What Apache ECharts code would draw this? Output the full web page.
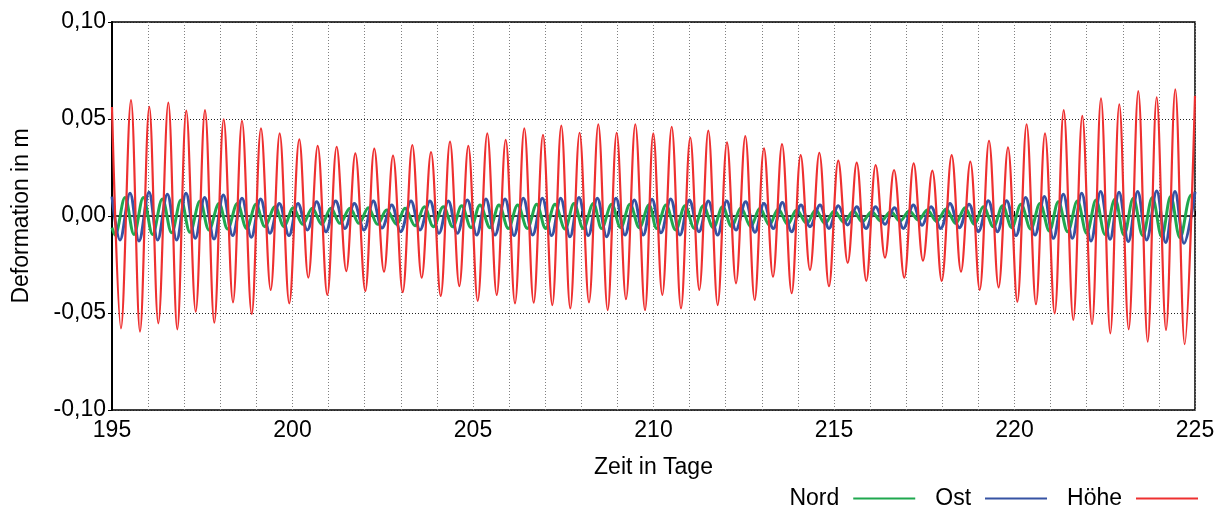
<!DOCTYPE html>
<html>
<head>
<meta charset="utf-8">
<script src="https://cdn.jsdelivr.net/npm/echarts@6/dist/echarts.min.js"></script>
<style>
html,body{margin:0;padding:0;background:#fff;}
#chart{width:1222px;height:509px;}
</style>
</head>
<body>
<div id="chart"></div>
<script>
// Tick labels / axis texts
const xTickMin = 195, xTickMax = 225;
const yTickMin = -0.10, yTickMax = 0.10;
const seriesNames = ['Nord', 'Ost', 'Höhe'];

// Höhe (vertical) — extremes (day, m)
const hoeheT = [195.000,195.249,195.526,195.776,196.033,196.283,196.560,196.809,197.058,197.319,197.576,197.834,198.094,198.352,198.601,198.870,199.127,199.396,199.645,199.911,200.188,200.438,200.698,200.964,201.224,201.490,201.740,202.017,202.266,202.535,202.784,203.053,203.319,203.579,203.837,204.105,204.363,204.621,204.870,205.130,205.396,205.657,205.906,206.163,206.421,206.681,206.939,207.197,207.446,207.695,207.953,208.213,208.471,208.731,208.980,209.238,209.496,209.765,209.994,210.244,210.504,210.762,211.019,211.269,211.518,211.778,212.036,212.285,212.543,212.803,213.061,213.310,213.560,213.828,214.077,214.335,214.593,214.861,215.119,215.380,215.629,215.895,216.155,216.413,216.662,216.947,217.207,217.465,217.723,217.983,218.260,218.518,218.776,219.036,219.294,219.560,219.820,220.078,220.335,220.595,220.845,221.113,221.363,221.629,221.878,222.147,222.396,222.654,222.903,223.163,223.429,223.690,223.939,224.197,224.454,224.715,225.000];
const hoeheV = [0.0562,-0.0579,0.0598,-0.0596,0.0563,-0.0553,0.0584,-0.0584,0.0543,-0.0493,0.0546,-0.0550,0.0498,-0.0445,0.0491,-0.0505,0.0452,-0.0381,0.0426,-0.0450,0.0395,-0.0318,0.0361,-0.0407,0.0357,-0.0284,0.0323,-0.0387,0.0347,-0.0287,0.0311,-0.0393,0.0366,-0.0318,0.0330,-0.0412,0.0383,-0.0361,0.0361,-0.0437,0.0426,-0.0407,0.0392,-0.0450,0.0452,-0.0447,0.0418,-0.0459,0.0466,-0.0476,0.0429,-0.0445,0.0473,-0.0485,0.0429,-0.0429,0.0473,-0.0485,0.0426,-0.0407,0.0460,-0.0476,0.0404,-0.0381,0.0440,-0.0459,0.0380,-0.0347,0.0412,-0.0433,0.0349,-0.0313,0.0371,-0.0398,0.0314,-0.0278,0.0326,-0.0362,0.0285,-0.0241,0.0275,-0.0334,0.0263,-0.0215,0.0237,-0.0318,0.0272,-0.0230,0.0234,-0.0334,0.0314,-0.0287,0.0280,-0.0381,0.0388,-0.0368,0.0354,-0.0442,0.0473,-0.0455,0.0426,-0.0502,0.0546,-0.0536,0.0516,-0.0558,0.0607,-0.0605,0.0576,-0.0584,0.0644,-0.0648,0.0612,-0.0588,0.0653,-0.0661,0.0620];

// Ost (east) — extremes
const ostT = [195.000,195.222,195.499,195.748,196.025,196.265,196.533,196.791,197.050,197.308,197.567,197.826,198.084,198.343,198.601,198.860,199.118,199.377,199.635,199.903,200.152,200.411,200.669,200.928,201.196,201.454,201.713,201.981,202.239,202.480,202.747,202.996,203.283,203.532,203.809,204.058,204.317,204.566,204.843,205.102,205.360,205.609,205.887,206.136,206.394,206.653,206.921,207.179,207.428,207.687,207.936,208.195,208.444,208.703,208.961,209.210,209.469,209.718,209.960,210.208,210.476,210.734,210.993,211.260,211.519,211.777,212.027,212.285,212.553,212.812,213.061,213.319,213.569,213.827,214.086,214.335,214.612,214.861,215.120,215.378,215.628,215.886,216.154,216.413,216.671,216.921,217.198,217.440,217.687,217.955,218.213,218.472,218.740,218.998,219.275,219.525,219.783,220.042,220.309,220.568,220.827,221.076,221.353,221.602,221.861,222.119,222.387,222.646,222.895,223.153,223.412,223.661,223.938,224.188,224.446,224.696,225.000];
const ostV = [0.0100,-0.0124,0.0117,-0.0129,0.0122,-0.0124,0.0112,-0.0124,0.0117,-0.0115,0.0095,-0.0119,0.0108,-0.0101,0.0091,-0.0110,0.0088,-0.0089,0.0065,-0.0101,0.0065,-0.0072,0.0074,-0.0081,0.0077,-0.0064,0.0065,-0.0072,0.0077,-0.0062,0.0057,-0.0081,0.0077,-0.0072,0.0077,-0.0089,0.0077,-0.0089,0.0083,-0.0098,0.0088,-0.0098,0.0088,-0.0101,0.0091,-0.0098,0.0091,-0.0101,0.0091,-0.0107,0.0095,-0.0101,0.0091,-0.0107,0.0091,-0.0098,0.0083,-0.0098,0.0086,-0.0086,0.0088,-0.0098,0.0083,-0.0081,0.0077,-0.0098,0.0077,-0.0072,0.0074,-0.0084,0.0065,-0.0064,0.0070,-0.0081,0.0057,-0.0055,0.0057,-0.0064,0.0053,-0.0046,0.0048,-0.0064,0.0048,-0.0043,0.0043,-0.0064,0.0057,-0.0048,0.0048,-0.0064,0.0065,-0.0060,0.0060,-0.0081,0.0079,-0.0081,0.0079,-0.0101,0.0095,-0.0098,0.0100,-0.0115,0.0112,-0.0115,0.0117,-0.0129,0.0126,-0.0120,0.0122,-0.0132,0.0126,-0.0124,0.0129,-0.0136,0.0126,-0.0141,0.0125];

// Nord (north) — extremes
const nordT = [195.000,195.083,195.360,195.609,195.868,196.126,196.394,196.653,196.911,197.161,197.438,197.687,197.964,198.204,198.472,198.730,198.989,199.238,199.515,199.765,200.023,200.282,200.549,200.808,201.066,201.316,201.593,201.842,202.101,202.359,202.608,202.885,203.116,203.393,203.652,203.901,204.178,204.437,204.686,204.945,205.194,205.471,205.720,205.979,206.237,206.505,206.764,207.013,207.271,207.548,207.798,208.056,208.333,208.564,208.841,209.090,209.349,209.608,209.875,210.088,210.346,210.614,210.873,211.131,211.380,211.657,211.916,212.165,212.424,212.692,212.950,213.209,213.458,213.716,213.966,214.243,214.492,214.751,215.009,215.277,215.536,215.785,216.043,216.302,216.570,216.828,217.087,217.336,217.585,217.844,218.103,218.370,218.629,218.887,219.137,219.414,219.672,219.922,220.180,220.448,220.706,220.965,221.214,221.473,221.741,221.999,222.258,222.507,222.784,223.033,223.292,223.551,223.818,224.077,224.326,224.585,224.900,225.000];
const nordV = [-0.0060,-0.0098,0.0095,-0.0095,0.0095,-0.0095,0.0088,-0.0086,0.0083,-0.0084,0.0077,-0.0072,0.0065,-0.0067,0.0065,-0.0064,0.0060,-0.0055,0.0048,-0.0055,0.0043,-0.0043,0.0040,-0.0043,0.0040,-0.0038,0.0040,-0.0038,0.0043,-0.0043,0.0031,-0.0043,0.0040,-0.0050,0.0048,-0.0055,0.0048,-0.0055,0.0053,-0.0060,0.0057,-0.0060,0.0057,-0.0064,0.0057,-0.0064,0.0060,-0.0064,0.0060,-0.0067,0.0065,-0.0064,0.0065,-0.0064,0.0060,-0.0060,0.0060,-0.0060,0.0057,-0.0064,0.0057,-0.0072,0.0053,-0.0064,0.0053,-0.0060,0.0048,-0.0055,0.0043,-0.0055,0.0040,-0.0046,0.0036,-0.0043,0.0031,-0.0038,0.0031,-0.0038,0.0026,-0.0033,0.0026,-0.0029,0.0022,-0.0026,0.0022,-0.0026,0.0026,-0.0021,0.0031,-0.0029,0.0036,-0.0038,0.0043,-0.0043,0.0048,-0.0055,0.0053,-0.0060,0.0060,-0.0067,0.0065,-0.0077,0.0074,-0.0081,0.0077,-0.0089,0.0083,-0.0095,0.0088,-0.0098,0.0091,-0.0101,0.0095,-0.0107,0.0100,-0.0112,0.0108,0.0100];

function pairs(t, v) {
  const n = Math.min(t.length, v.length);
  const out = [];
  for (let i = 0; i < n; i++) out.push([t[i], v[i]]);
  return out;
}

const FONT = '"Liberation Sans", Arial, Helvetica, sans-serif';
const FS = 23;
const chart = echarts.init(document.getElementById('chart'), null, {renderer: 'canvas'});

chart.setOption({
  animation: false,
  backgroundColor: '#ffffff',
  grid: {
    left: 112, right: 27, top: 22, bottom: 99,
    show: true, borderColor: '#000', borderWidth: 1.5, backgroundColor: 'transparent'
  },
  legend: {
    right: 19, top: 482, align: 'right', icon: 'rect',
    itemWidth: 62, itemHeight: 2, itemGap: 20,
    textStyle: {fontSize: FS, color: '#000', fontFamily: FONT, padding: [0, 9, 0, 0]},
    data: seriesNames
  },
  xAxis: {
    type: 'value', min: xTickMin, max: xTickMax, interval: 1,
    name: 'Zeit in Tage', nameLocation: 'middle', nameGap: 46,
    nameTextStyle: {fontSize: FS, color: '#000', fontFamily: FONT},
    axisLine: {show: true, lineStyle: {color: '#000', width: 1.5}},
    axisTick: {show: true, inside: true, length: 5, lineStyle: {color: '#000'}},
    axisLabel: {
      fontSize: FS, color: '#000', fontFamily: FONT, margin: 9,
      formatter: function (v) { return (Math.round(v) % 5 === 0) ? String(Math.round(v)) : ''; }
    },
    splitLine: {show: true, lineStyle: {color: '#808080', type: [1, 2], width: 1}}
  },
  yAxis: {
    type: 'value', min: yTickMin, max: yTickMax, interval: 0.05,
    name: 'Deformation in m', nameLocation: 'middle', nameGap: 79,
    nameTextStyle: {fontSize: FS, color: '#000', fontFamily: FONT},
    axisLine: {show: true, lineStyle: {color: '#000', width: 2}},
    axisTick: {show: true, inside: false, length: 4, lineStyle: {color: '#000'}},
    axisLabel: {
      fontSize: FS, color: '#000', fontFamily: FONT, margin: 6,
      formatter: function (v) { return v.toFixed(2).replace('.', ','); }
    },
    splitLine: {show: true, lineStyle: {color: '#222', type: [1, 2], width: 1}}
  },
  series: [
    {name: 'Nord', type: 'line', data: pairs(nordT, nordV), smooth: 0.36, symbol: 'none',
     lineStyle: {color: '#1fa84f', width: 3}, itemStyle: {color: '#1fa84f'}},
    {name: 'Ost', type: 'line', data: pairs(ostT, ostV), smooth: 0.36, symbol: 'none',
     lineStyle: {color: '#3653a3', width: 3}, itemStyle: {color: '#3653a3'}},
    {name: 'Höhe', type: 'line', data: pairs(hoeheT, hoeheV), smooth: 0.36, symbol: 'none',
     lineStyle: {color: '#ee3030', width: 2.2}, itemStyle: {color: '#ee3030'}}
  ]
});
</script>
</body>
</html>
